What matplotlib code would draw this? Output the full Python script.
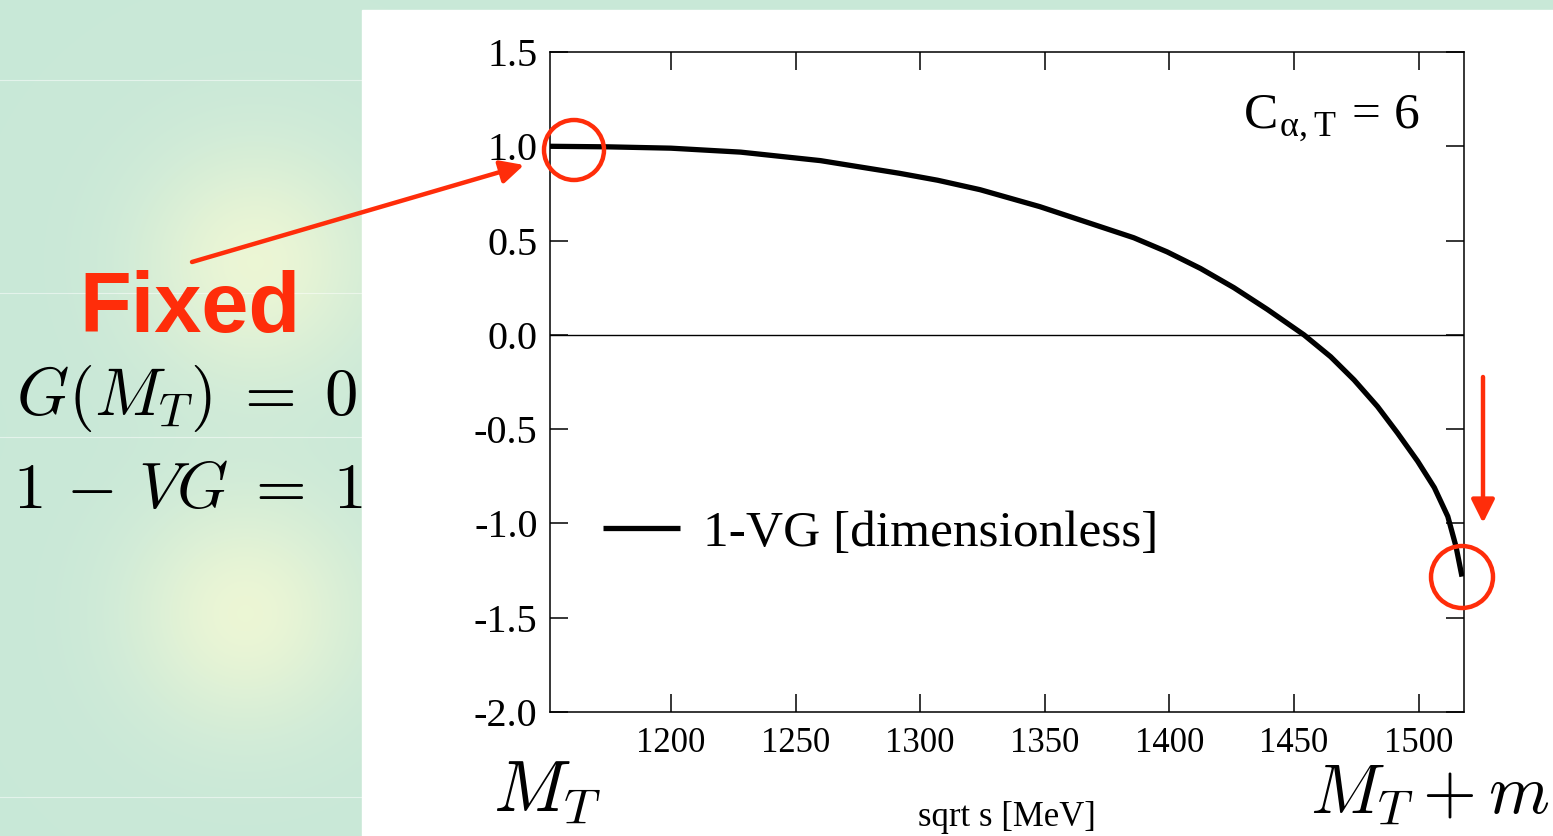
import matplotlib
matplotlib.use("Agg")
import matplotlib.pyplot as plt
import numpy as np
from matplotlib.patches import Circle, Rectangle, FancyArrowPatch

# values
sqrt_s = np.array([1151.5, 1175, 1200, 1228, 1260, 1291.6, 1307, 1324, 1348,
                   1372, 1385.7, 1399.1, 1412.5, 1425.9, 1439.3, 1454,
                   1464.7, 1474.1, 1483.5, 1491.5, 1499.6, 1506.3, 1511.7,
                   1515.0, 1517.4])
one_minus_vg = np.array([1.0, 0.997, 0.99, 0.969, 0.924, 0.857, 0.82, 0.77, 0.68,
                         0.575, 0.515, 0.44, 0.352, 0.25, 0.135, 0.0,
                         -0.116, -0.239, -0.38, -0.52, -0.67, -0.81, -0.963,
                         -1.123, -1.282])

x_ticks = [1200, 1250, 1300, 1350, 1400, 1450, 1500]
y_ticks = [-2.0, -1.5, -1.0, -0.5, 0.0, 0.5, 1.0, 1.5]
y_tick_labels = ['-2.0', '-1.5', '-1.0', '-0.5', '0.0', '0.5', '1.0', '1.5']

W, H = 1553, 836
red = '#ff2d0a'
serif = 'Liberation Serif'
plt.rcParams['mathtext.fontset'] = 'cm'

fig = plt.figure(figsize=(W / 100, H / 100), dpi=100)

# slide background: green with two soft glows
bg = fig.add_axes([0, 0, 1, 1], zorder=-5)
yy, xx = np.mgrid[0:H, 0:W]
base = np.array([0.788, 0.910, 0.847])
glow = np.array([0.925, 0.965, 0.835])
w = np.exp(-((xx - 255) ** 2 + (yy - 262) ** 2) / (2 * 80.0 ** 2))
w += np.exp(-((xx - 245) ** 2 + (yy - 613) ** 2) / (2 * 80.0 ** 2))
w = np.clip(w, 0, 1)[..., None]
img = base * (1 - w) + glow * w
bg.imshow(img, extent=[0, W, H, 0], aspect='auto')
for yl in [80, 293, 437, 797]:
    bg.axhline(yl, xmin=0, xmax=362 / W, color='white', lw=0.8, alpha=0.5)
bg.add_patch(Rectangle((362, 10), W - 362, H - 10, color='white'))
bg.set_xlim(0, W)
bg.set_ylim(H, 0)
bg.axis('off')

# main plot
ax = fig.add_axes([550 / W, 1 - 712 / H, (1464 - 550) / W, (712 - 52) / H])
ax.plot(sqrt_s, one_minus_vg, color='black', lw=3.8, solid_capstyle='butt',
        solid_joinstyle='round', label='1-VG [dimensionless]')
ax.axhline(0, color='black', lw=1.0)
ax.set_xlim(1151.5, 1518.2)
ax.set_ylim(-2.0, 1.5)
ax.set_xticks(x_ticks)
ax.set_xticklabels([str(t) for t in x_ticks], fontfamily=serif, fontsize=25)
ax.set_yticks(y_ticks)
ax.set_yticklabels(y_tick_labels, fontfamily=serif, fontsize=29)
ax.tick_params(axis='both', direction='in', length=13, width=1.1,
               top=True, right=True)
ax.tick_params(axis='x', pad=11)
ax.tick_params(axis='y', pad=9)
for sp in ax.spines.values():
    sp.set_linewidth(1.1)
ax.set_xlabel('sqrt s [MeV]', fontfamily=serif, fontsize=25, labelpad=29)

ax.text(0.855, 0.9, r'C$_{\mathregular{α,T}}$ = 6',
        transform=ax.transAxes, ha='center', va='center', fontsize=37,
        family=serif)

ax.legend(loc='center left', bbox_to_anchor=(0.058, 0.27), frameon=False,
          prop={'family': serif, 'size': 37}, handlelength=1.5,
          handletextpad=0.45, borderpad=0, borderaxespad=0)

# slide annotations in pixel coordinates
ov = fig.add_axes([0, 0, 1, 1], zorder=5)
ov.set_xlim(0, W)
ov.set_ylim(H, 0)
ov.axis('off')
ov.patch.set_alpha(0)

ov.add_patch(Circle((574, 150), 30, fill=False, edgecolor=red, lw=3.2))
ov.add_patch(Circle((1462, 577), 31, fill=False, edgecolor=red, lw=3.2))
ov.add_patch(FancyArrowPatch((192, 262), (524, 165), arrowstyle='-|>,head_length=14,head_width=7',
                             color=red, lw=3.2, shrinkA=0, shrinkB=0))
ov.add_patch(FancyArrowPatch((1483, 377), (1483, 523), arrowstyle='-|>,head_length=14,head_width=7',
                             color=red, lw=3.2, shrinkA=0, shrinkB=0))

ov.text(190, 310, 'Fixed', color=red, fontsize=61, fontweight='bold',
        family='Liberation Sans', ha='center', va='center')
ov.text(186, 398, r'$G(M_T)\;=\;0$', fontsize=48, ha='center', va='center')
ov.text(188, 490, r'$1\,-\,VG\;=\;1$', fontsize=47, ha='center', va='center')
ov.text(547, 792, r'$M_T$', fontsize=52, ha='center', va='center')
ov.text(1310, 795, r'$M_T + m$', fontsize=50, ha='left', va='center')

fig.savefig('out.png', dpi=100)
